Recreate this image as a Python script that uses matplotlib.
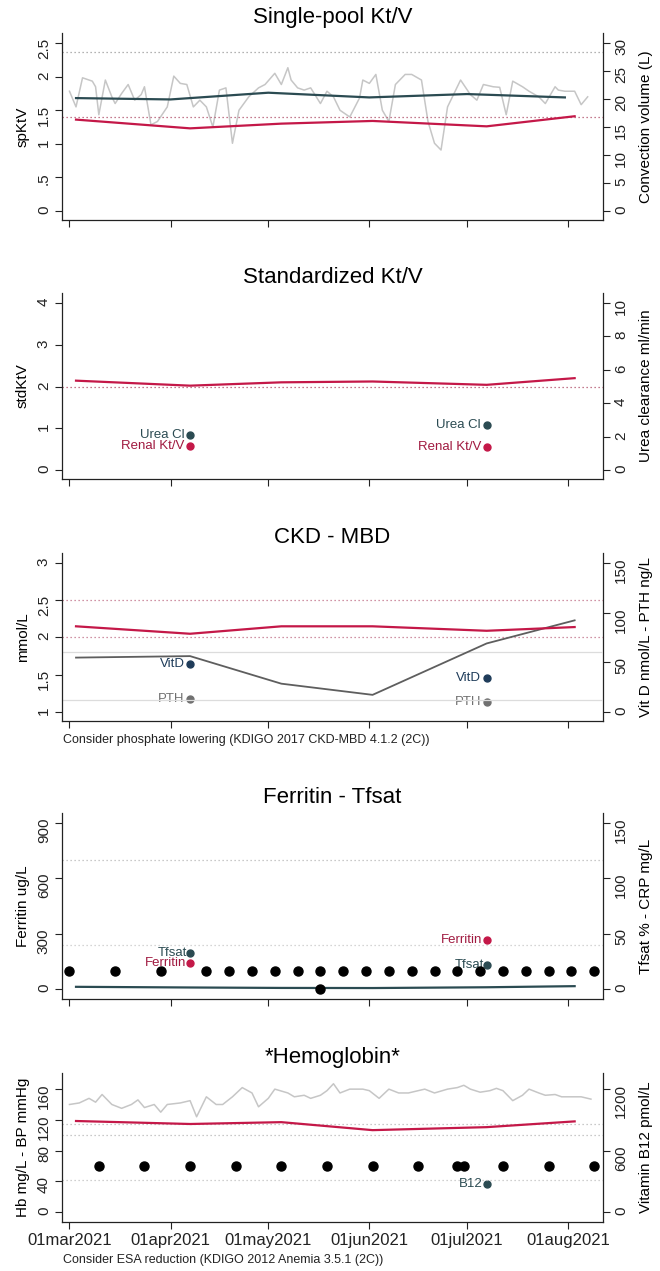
import matplotlib
matplotlib.use("Agg")
import matplotlib.pyplot as plt
import pandas as pd

plt.rcParams['font.family'] = ['Liberation Sans', 'DejaVu Sans']

START = pd.Timestamp("2021-03-01")

# x axis ticks (days after 01mar2021)
tick_days = [0, 31, 61, 92, 122, 153]
tick_labels = ["01mar2021", "01apr2021", "01may2021", "01jun2021", "01jul2021", "01aug2021"]

# monthly lab / kt/v dates
lab_days = [2, 37, 65, 93, 128, 155]
pt_days = [37, 128]

# --- Single-pool Kt/V
sp_ktv = [1.36, 1.23, 1.30, 1.34, 1.26, 1.41]
eq_days = [2, 31, 61, 92, 122, 152]
eq_ktv = [1.68, 1.66, 1.76, 1.69, 1.74, 1.69]
conv_days = [0, 2, 4, 7, 8, 9, 11, 13, 14, 16, 18, 20, 22, 23, 25, 27, 30, 32, 34, 36,
             38, 40, 42, 44, 46, 48, 50, 52, 55, 58, 60, 63, 65, 67, 68, 70, 72, 74, 77, 79,
             81, 83, 86, 89, 90, 92, 94, 96, 98, 100, 103, 105, 108, 110, 112, 114, 116, 118, 120, 123,
             125, 127, 130, 132, 134, 136, 139, 141, 144, 146, 149, 150, 152, 155, 157, 159]
conv_vol = [21.4, 18.6, 23.8, 23.2, 22.2, 17.2, 23.4, 20.4, 19.2, 21.0,
            22.6, 19.8, 20.8, 22.2, 15.4, 16.0, 18.6, 24.1, 22.8, 22.6,
            18.6, 19.8, 18.6, 15.0, 21.6, 22.0, 12.1, 18.0, 20.4, 22.0,
            22.6, 24.6, 22.6, 25.6, 23.4, 22.0, 21.6, 22.0, 19.2, 21.4,
            20.4, 18.0, 16.8, 20.2, 23.4, 22.8, 24.4, 18.0, 16.0, 22.6,
            24.4, 24.4, 23.4, 16.0, 12.1, 10.9, 18.6, 21.0, 23.4, 20.8,
            19.8, 22.6, 22.2, 22.1, 17.2, 23.2, 22.2, 21.4, 20.4, 19.2,
            22.2, 21.6, 21.4, 21.4, 19.0, 20.4]

# --- Standardized Kt/V
std_ktv = [2.14, 2.02, 2.10, 2.12, 2.04, 2.20]
urea_cl = [2.1, 2.68]
renal_ktv = [0.58, 0.54]

# --- CKD - MBD
calcium = [2.15, 2.05, 2.15, 2.15, 2.09, 2.14]
phosphate = [1.73, 1.75, 1.38, 1.23, 1.92, 2.23]
vitd = [48, 34]
pth = [12.6, 10.5]

# --- Ferritin - Tfsat
ferritin = [141, 266]
tfsat = [32.5, 21.7]
crp = [2.0, 1.4, 1.0, 0.9, 1.6, 2.6]
crp_day, crp_low = 77, 0
iron_days = [0, 14, 28, 42, 49, 56, 63, 70, 77, 84, 91, 98, 105, 112, 119, 126, 133, 140, 147, 154, 161]
iron_level = 100

# --- Hemoglobin
hb = [118.5, 114.6, 117, 106.6, 110.5, 118]
bp_days = [0, 3, 6, 8, 10, 13, 16, 19, 21, 23, 26, 28, 30, 34, 37, 39, 42, 45, 47, 50,
           53, 56, 58, 61, 63, 67, 69, 72, 74, 77, 79, 81, 83, 86, 90, 92, 95, 98, 101, 104,
           107, 109, 112, 116, 119, 121, 123, 126, 129, 131, 133, 136, 139, 141, 144, 146, 149, 151, 154, 157,
           160]
bp_sys = [140, 142, 148, 143, 153, 140, 135, 140, 146, 136, 140, 130, 140, 142, 145, 124, 150, 140, 140, 150,
          162, 155, 137, 148, 160, 155, 150, 152, 148, 152, 158, 167, 155, 160, 160, 158, 148, 160, 155, 155,
          158, 160, 155, 160, 162, 165, 160, 156, 158, 161, 158, 145, 152, 160, 155, 152, 153, 150, 150, 150,
          147]
esa_days = [9, 23, 37, 51, 65, 79, 93, 107, 119, 121, 133, 147, 161]
esa_level = 60
b12_day, b12 = 128, 273

RED = "#c41848"
TEAL = "#2b4b52"
NAVY = "#1f3c5a"
GREY = "#c6c6c6"
AXC = "#222222"
DOT = (0, (1, 2.2))

W, H = 660, 1271
fig = plt.figure(figsize=(W / 100, H / 100), dpi=100)


def dates(d):
    return START + pd.to_timedelta(d, unit="D")


def panel(top, bottom, title, ylim, yticks, ylabels, ylab, ylim2, yticks2, ylab2, xlabels=False):
    ax = fig.add_axes([62 / W, 1 - bottom / H, 541 / W, (bottom - top) / H])
    ax2 = ax.twinx()
    ax.set_zorder(ax2.get_zorder() + 1)
    ax.patch.set_visible(False)
    ax.set_xlim(dates(-2.3), dates(163.7))
    ax.set_ylim(*ylim)
    ax2.set_ylim(*ylim2)
    ax.set_yticks(yticks)
    ax.set_yticklabels(ylabels)
    ax2.set_yticks(yticks2)
    ax.set_xticks(dates(tick_days))
    ax.set_xticklabels(tick_labels if xlabels else [])
    for a in (ax, ax2):
        a.spines['top'].set_visible(False)
        for s in a.spines.values():
            s.set_color(AXC)
            s.set_linewidth(0.9)
        a.tick_params(direction='out', length=5, width=0.8, colors=AXC, labelsize=11, pad=3)
        a.tick_params(axis='y', labelrotation=90)
    ax.spines['right'].set_visible(False)
    ax2.spines['left'].set_visible(False)
    ax2.spines['bottom'].set_visible(False)
    ax.set_ylabel(ylab, fontsize=11, labelpad=5)
    ax2.set_ylabel(ylab2, fontsize=11, labelpad=8)
    ax.set_title(title, fontsize=16, pad=7)
    return ax, ax2


def hdot(ax, y, color, lw=0.9):
    ax.axhline(y, color=color, linestyle=DOT, linewidth=lw, zorder=1)


# Panel 1
ax, ax2 = panel(33, 220, "Single-pool Kt/V", (-0.133, 2.648), [0, 0.5, 1, 1.5, 2, 2.5],
                ["0", ".5", "1", "1.5", "2", "2.5"], "spKtV",
                (-1.6, 31.8), [0, 5, 10, 15, 20, 25, 30], "Convection volume (L)")
hdot(ax, 2.37, "#9a9a9a")
hdot(ax, 1.4, "#b0506a")
ax2.plot(dates(conv_days), conv_vol, color=GREY, lw=1.1)
ax.plot(dates(eq_days), eq_ktv, color=TEAL, lw=1.6)
ax.plot(dates(lab_days), sp_ktv, color=RED, lw=1.6)

# Panel 2
ax, ax2 = panel(293, 479, "Standardized Kt/V", (-0.216, 4.24), [0, 1, 2, 3, 4],
                ["0", "1", "2", "3", "4"], "stdKtV",
                (-0.54, 10.6), [0, 2, 4, 6, 8, 10], "Urea clearance ml/min")
hdot(ax, 2.0, "#b0506a")
ax.plot(dates(lab_days), std_ktv, color=RED, lw=1.6)
ax2.plot(dates(pt_days), urea_cl, 'o', color=TEAL, ms=5)
ax.plot(dates(pt_days), renal_ktv, 'o', color=RED, ms=5)
for d, v in zip(pt_days, urea_cl):
    ax2.annotate("Urea Cl", (dates(d), v), xytext=(-4, 0), textcoords='offset points',
                 ha='right', va='center', fontsize=9.5, color=TEAL)
for d, v in zip(pt_days, renal_ktv):
    ax.annotate("Renal Kt/V", (dates(d), v), xytext=(-4, 0), textcoords='offset points',
                ha='right', va='center', fontsize=9.5, color="#a01a40")

# Panel 3
ax, ax2 = panel(553, 721, "CKD - MBD", (0.879, 3.134), [1, 1.5, 2, 2.5, 3],
                ["1", "1.5", "2", "2.5", "3"], "mmol/L",
                (-9.06, 160.1), [0, 50, 100, 150], "Vit D nmol/L - PTH ng/L")
hdot(ax, 2.5, "#c07088")
hdot(ax, 2.0, "#c07088")
ax.axhline(1.81, color="#dcdcdc", lw=0.9, zorder=1)
ax.axhline(1.16, color="#dcdcdc", lw=0.9, zorder=1)
ax.plot(dates(lab_days), phosphate, color="#5e5e5e", lw=1.3)
ax.plot(dates(lab_days), calcium, color=RED, lw=1.6)
ax2.plot(dates(pt_days), vitd, 'o', color=NAVY, ms=5)
ax2.plot(dates(pt_days), pth, 'o', color="#707070", ms=5)
for d, v in zip(pt_days, vitd):
    ax2.annotate("VitD", (dates(d), v), xytext=(-4, 0), textcoords='offset points',
                 ha='right', va='center', fontsize=9.5, color=NAVY)
for d, v in zip(pt_days, pth):
    ax2.annotate("PTH", (dates(d), v), xytext=(-4, 0), textcoords='offset points',
                 ha='right', va='center', fontsize=9.5, color="#707070")
fig.text(63 / W, 1 - 740 / H, "Consider phosphate lowering (KDIGO 2017 CKD-MBD 4.1.2 (2C))",
         fontsize=9, va='center', ha='left', color=AXC)

# Panel 4
ax, ax2 = panel(813, 999, "Ferritin - Tfsat", (-54, 954), [0, 300, 600, 900],
                ["0", "300", "600", "900"], "Ferritin ug/L",
                (-9, 159), [0, 50, 100, 150], "Tfsat % - CRP mg/L")
hdot(ax, 700, "#b8b8b8")
hdot(ax2, 40, "#c8c8c8")
ax2.plot(dates(lab_days), crp, color=TEAL, lw=1.6)
ax.plot(dates(iron_days), [iron_level] * len(iron_days), 'o', color='black', ms=6.5)
ax2.plot(dates([crp_day]), [crp_low], 'o', color='black', ms=6.5)
ax.plot(dates(pt_days), ferritin, 'o', color=RED, ms=5)
ax2.plot(dates(pt_days), tfsat, 'o', color=TEAL, ms=5)
for d, v in zip(pt_days, ferritin):
    ax.annotate("Ferritin", (dates(d), v), xytext=(-3, 0), textcoords='offset points',
                ha='right', va='center', fontsize=9.5, color="#a01a40")
for d, v in zip(pt_days, tfsat):
    ax2.annotate("Tfsat", (dates(d), v), xytext=(-2, 0), textcoords='offset points',
                 ha='right', va='center', fontsize=9.5, color=TEAL)

# Panel 5
ax, ax2 = panel(1073, 1222, "*Hemoglobin*", (-13, 181), [0, 40, 80, 120, 160],
                ["0", "40", "80", "120", "160"], "Hb mg/L - BP mmHg",
                (-97.5, 1357), [0, 600, 1200], "Vitamin B12 pmol/L", xlabels=True)
hdot(ax, 115, "#b8b8b8")
hdot(ax, 100, "#b8b8b8")
hdot(ax, 42, "#c0c0c0")
ax.plot(dates(bp_days), bp_sys, color=GREY, lw=1.1)
ax.plot(dates(lab_days), hb, color=RED, lw=1.6)
ax.plot(dates(esa_days), [esa_level] * len(esa_days), 'o', color='black', ms=6.5)
ax2.plot(dates([b12_day]), [b12], 'o', color=TEAL, ms=5)
ax2.annotate("B12", (dates(b12_day), b12), xytext=(-3, 0), textcoords='offset points',
             ha='right', va='center', fontsize=9.5, color=TEAL)
ax.tick_params(axis='x', labelsize=12, pad=3)
fig.text(63 / W, 1 - 1260 / H, "Consider ESA reduction (KDIGO 2012 Anemia 3.5.1 (2C))",
         fontsize=9, va='center', ha='left', color=AXC)

fig.savefig("out.png", dpi=100)
